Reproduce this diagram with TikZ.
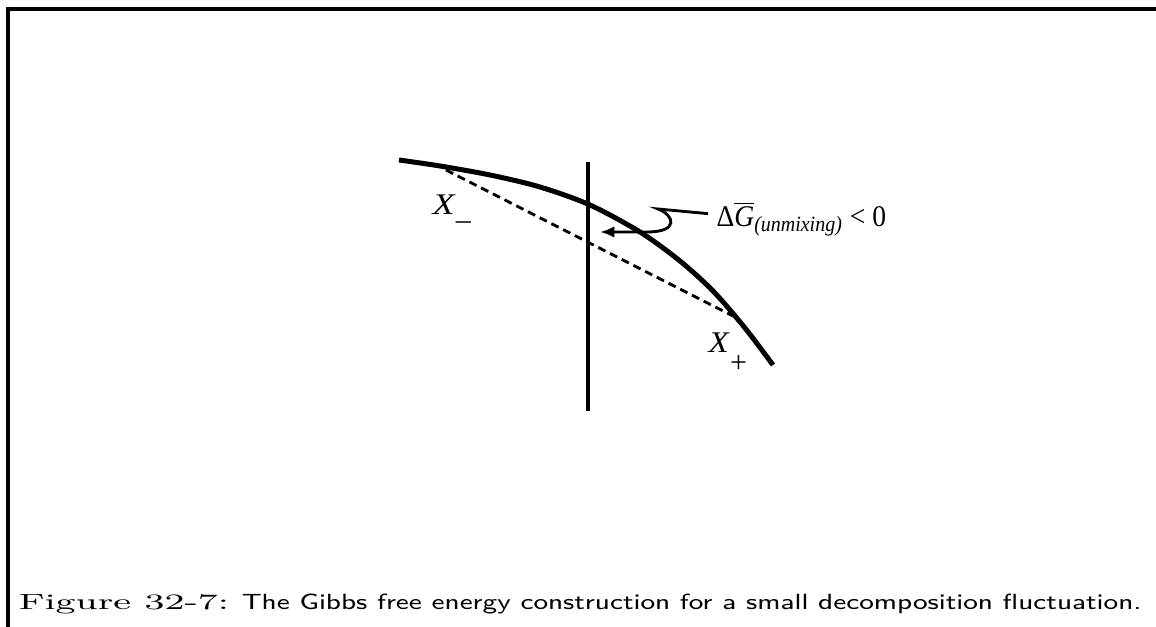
\documentclass[tikz,border=0pt]{standalone}
\usepackage{fontspec}
\newfontfamily\timesfont{Liberation Serif}
\usetikzlibrary{arrows.meta}
\tikzset{
  energycurve/.style={line width=1.75pt},
  tieline/.style={line width=1pt, dash pattern=on 2.8pt off 1.8pt},
  frameline/.style={line width=1.2pt},
  lbl/.style={inner sep=0pt, anchor=base west, font=\timesfont\fontsize{10.5}{12}\selectfont}
}

\begin{document}
\begin{tikzpicture}[x=0.35pt,y=-0.35pt]
\useasboundingbox (0,0) rectangle (1156,627);
\draw[frameline] (8,627) -- (8,9) -- (1156,9);
% free energy curve and tie line
\draw[energycurve] plot[smooth] coordinates
  {(399,160) (440,166) (490,175) (540,187) (590,205) (640,232) (680,261) (713,291) (745,328) (773,365)};
\coordinate (xm) at (446,170);
\coordinate (xp) at (733,316);
\draw[tieline] (xm) -- (xp);
\coordinate (vtop) at (588,162);
\coordinate (vbot) at (588,411);
\draw[line width=1.1pt] (vtop) -- (vbot);
\node[lbl] (xminus) at (432,215) {\scalebox{1.2}[1]{\itshape X}\kern0.5pt\raisebox{-5pt}{\upshape –}};
\node[lbl] (xplus) at (708,353) {\scalebox{1.1}[1]{\itshape X}\kern0.5pt\raisebox{-7pt}{\upshape +}};
% label with wavy pointer
\node[lbl] (dg) at (716,227) {\scalebox{0.92}[1]{Δ$\overline{\mbox{\timesfont\itshape G}}$\raisebox{-1.5pt}{\fontsize{7.6}{9}\selectfont\itshape (unmixing)}\kern3pt< 0}};
\coordinate (tip) at (600,232);
\draw[line width=1pt, -{Latex[length=5pt,width=4pt]}] (dg.west) ++(-8,-5) -- (658,209)
  .. controls (674,215) and (680,232) .. (647,232) -- (tip);
% caption
\node[inner sep=0pt, anchor=base west] (caption) at (18,610)
  {\fontsize{7.7}{9}\selectfont\scalebox{1.71}[1]{Figure 32-7:}\hspace{4.5pt}\scalebox{1.25}[1]{\sffamily The Gibbs free energy construction for a small decomposition fluctuation.}};
\end{tikzpicture}
\end{document}
